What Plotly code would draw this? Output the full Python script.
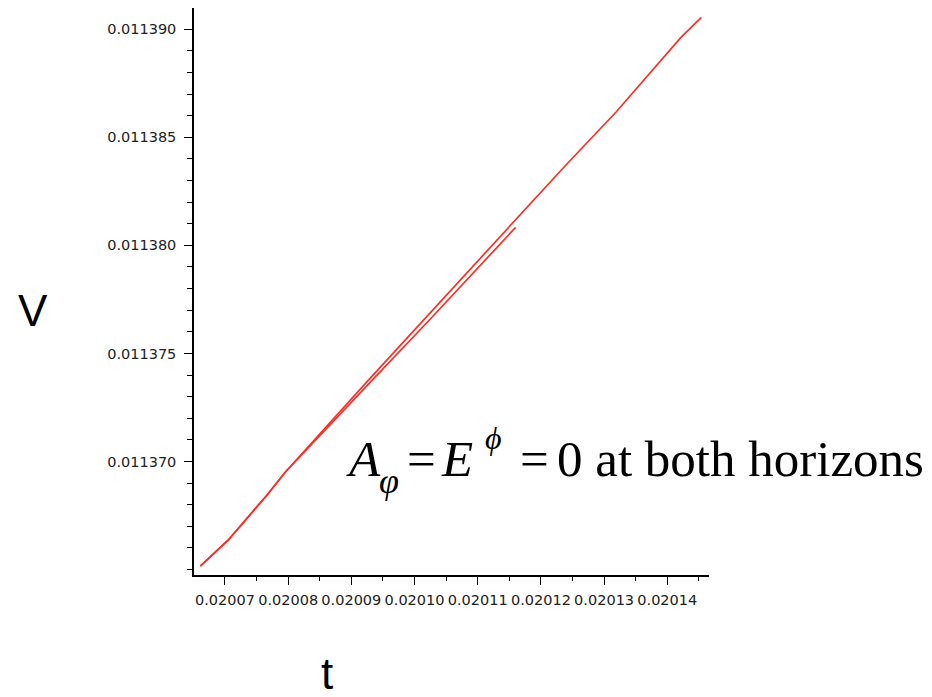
import plotly.graph_objects as go

# Long curve (t, V)
t_long = [0.0200661, 0.0200705, 0.0200766, 0.0200795, 0.0200926, 0.0201013,
          0.0201146, 0.0201240, 0.0201319, 0.0201367, 0.0201382, 0.0201422, 0.0201454]
v_long = [0.01136516, 0.01136636, 0.01136843, 0.01136949, 0.01137373, 0.01137650,
          0.01138078, 0.01138373, 0.01138617, 0.01138779, 0.01138825, 0.01138963, 0.01139055]

# Short curve (t, V)
t_short = [0.0200661, 0.0200705, 0.0200766, 0.0200795, 0.0200932, 0.0201022, 0.0201160]
v_short = [0.01136516, 0.01136636, 0.01136843, 0.01136949, 0.01137373, 0.01137650, 0.01138083]

x_ticks = [0.02007, 0.02008, 0.02009, 0.02010, 0.02011, 0.02012, 0.02013, 0.02014]
x_labels = ["0.02007", "0.02008", "0.02009", "0.02010", "0.02011", "0.02012", "0.02013", "0.02014"]
y_ticks = [0.011370, 0.011375, 0.011380, 0.011385, 0.011390]
y_labels = ["0.011370", "0.011375", "0.011380", "0.011385", "0.011390"]

x_range = [0.0200651, 0.0201466]
y_range = [0.01136475, 0.01139098]

line_color = "rgb(255,45,35)"

fig = go.Figure()
fig.add_trace(go.Scatter(x=t_long, y=v_long, mode="lines",
                         line=dict(color=line_color, width=1.7), showlegend=False))
fig.add_trace(go.Scatter(x=t_short, y=v_short, mode="lines",
                         line=dict(color=line_color, width=1.7), showlegend=False))

tick_font = dict(family="DejaVu Sans", size=14.5, color="#222222")

serif = "Liberation Serif"
big = 51


def ann(text, x, y, size, xanchor="left", family=serif):
    return dict(text=text, xref="paper", yref="paper", x=x, y=y,
                xanchor=xanchor, yanchor="middle", showarrow=False,
                font=dict(family=family, size=size, color="black"))


annotations = [
    ann("V", -0.3126, 0.467, 44, "center", "Liberation Sans"),
    ann("t", 0.259, -0.174, 44, "center", "Liberation Sans"),
    ann("<i>A</i>", 0.2913, 0.2049, big),
    ann("<i>φ</i>", 0.3545, 0.1660, 36),
    ann("=", 0.4427, 0.2049, big, "center"),
    ann("<i>E</i>", 0.4760, 0.2049, big),
    ann("<i>ϕ</i>", 0.5610, 0.2411, 32),
    ann("=", 0.6602, 0.2049, big, "center"),
    ann("0 at both horizons", 0.7010, 0.2049, big),
]

fig.update_layout(
    width=932, height=697,
    margin=dict(l=194, r=223, t=8, b=122),
    paper_bgcolor="white", plot_bgcolor="white",
    xaxis=dict(range=x_range, tickmode="array", tickvals=x_ticks, ticktext=x_labels,
               showgrid=False, zeroline=False, showline=True, linecolor="black", linewidth=1.5,
               ticks="outside", ticklen=8, tickwidth=1.2, tickcolor="black",
               tickangle=0, tickfont=tick_font, ticklabelstandoff=3,
               minor=dict(ticks="outside", ticklen=4, tickwidth=1.2, tickcolor="black",
                          dtick=0.000005, tick0=0.02007, showgrid=False)),
    yaxis=dict(range=y_range, tickmode="array", tickvals=y_ticks, ticktext=y_labels,
               showgrid=False, zeroline=False, showline=True, linecolor="black", linewidth=1.5,
               ticks="outside", ticklen=8, tickwidth=1.2, tickcolor="black",
               tickfont=tick_font, ticklabelstandoff=5,
               minor=dict(ticks="outside", ticklen=5, tickwidth=1.2, tickcolor="black",
                          dtick=0.000001, tick0=0.011370, showgrid=False)),
    annotations=annotations,
)

fig.write_html("out.html", config={"displayModeBar": False},
               post_script="document.body.style.margin='0';")
